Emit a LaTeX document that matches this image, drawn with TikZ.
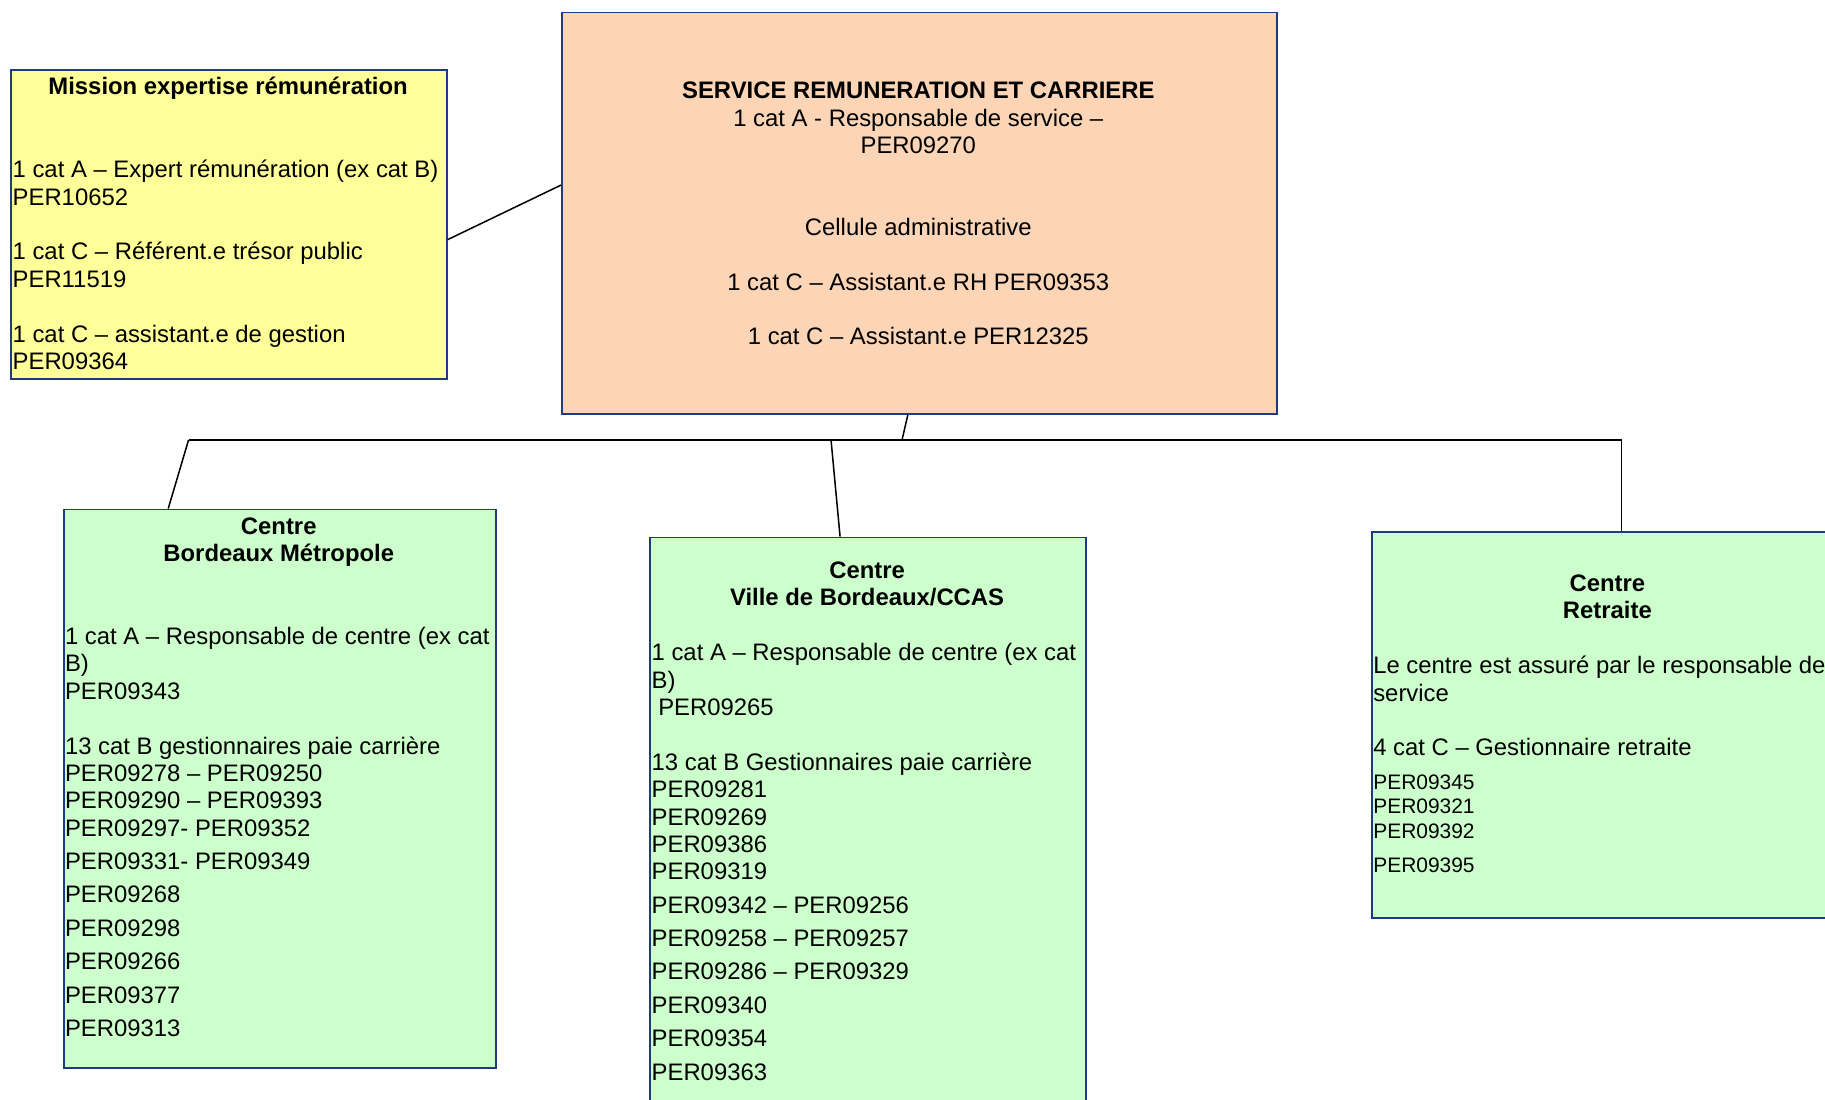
\documentclass[tikz,border=0pt]{standalone}
\usepackage{fontspec}
\setmainfont{Liberation Sans}
\usetikzlibrary{calc}
\definecolor{yfill}{HTML}{FFFF99}
\definecolor{pfill}{HTML}{FBD5B5}
\definecolor{gfill}{HTML}{CCFFCC}
\definecolor{bordc}{HTML}{1F3A80}
\tikzset{
  boxbase/.style={draw=bordc, line width=0.8pt, rectangle, inner sep=0pt, anchor=north west},
  ybox/.style={boxbase, fill=yfill},
  pbox/.style={boxbase, fill=pfill},
  gbox/.style={boxbase, fill=gfill},
  txt/.style={inner sep=0pt, font=\fontsize{10.25pt}{11.75pt}\selectfont},
  ttl/.style={txt, align=center, anchor=north, font=\fontsize{10.25pt}{11.75pt}\selectfont\bfseries},
  body/.style={txt, align=left, anchor=north west},
  conn/.style={draw=black, line width=0.65pt}
}
\begin{document}
\begin{tikzpicture}[x=0.5pt,y=-0.5pt]
\path[use as bounding box] (0,0) rectangle (1568,945);
\clip (0,0) rectangle (1568,945);
\fill[white] (0,0) rectangle (1568,945);

% boxes
\node[ybox, minimum width=187pt, minimum height=133pt] (yel) at (9,59) {};
\node[pbox, minimum width=307pt, minimum height=172.5pt] (peach) at (482,10) {};
\node[gbox, minimum width=185.5pt, minimum height=240pt] (lbox) at (54,437) {};
\node[gbox, minimum width=187pt, minimum height=252pt] (mbox) at (558,461) {};
\node[gbox, minimum width=203pt, minimum height=166pt] (rbox) at (1178,456) {};

% connectors
\coordinate (busL) at (162,378);
\coordinate (busT) at (775,378);
\coordinate (busM) at (714,378);
\coordinate (busR) at (1393,378);
\draw[conn] ($(yel.north east)!0.549!(yel.south east)$) -- ($(peach.north west)!0.43!(peach.south west)$);
\draw[conn] ($(peach.south west)!0.484!(peach.south east)$) -- (busT);
\draw[conn] (busL) -- (busR) -- (busR |- rbox.north);
\draw[conn] (busL) -- ($(lbox.north west)!0.243!(lbox.north east)$);
\draw[conn] (busM) -- ($(mbox.north west)!0.436!(mbox.north east)$);

% yellow box text
\node[txt, anchor=base, font=\fontsize{10.25pt}{11.75pt}\selectfont\bfseries] (ytitle) at (196,81.5) {Mission expertise rémunération};
\node[body] (ybody) at (10.5,136) {\strut 1 cat A – Expert rémunération (ex cat B)\\
PER10652\\[11.75pt]
1 cat C – Référent.e trésor public\\
PER11519\\[11.75pt]
1 cat C – assistant.e de gestion\\
PER09364};

% peach box text
\node[txt, align=center, anchor=north] (ptext) at (789,68) {\strut\textbf{SERVICE REMUNERATION ET CARRIERE}\\
1 cat A - Responsable de service –\\
PER09270\\[23.5pt]
Cellule administrative\\[11.75pt]
1 cat C – Assistant.e RH PER09353\\[11.75pt]
1 cat C – Assistant.e PER12325};

% left green box
\node[ttl] (ltitle) at (239.5,442) {\strut Centre\\Bordeaux Métropole};
\node[body] (lbody) at (55.5,537) {\strut 1 cat A – Responsable de centre (ex cat\\
B)\\
PER09343\\[11.75pt]
13 cat B gestionnaires paie carrière\\
PER09278 – PER09250\\
PER09290 – PER09393\\
PER09297- PER09352\\[2.6pt]
PER09331- PER09349\\[2.6pt]
PER09268\\[2.6pt]
PER09298\\[2.6pt]
PER09266\\[2.6pt]
PER09377\\[2.6pt]
PER09313};

% middle green box
\node[ttl] (mtitle) at (745,480) {\strut Centre\\Ville de Bordeaux/CCAS};
\node[body] (mbody) at (559.5,551) {\strut 1 cat A – Responsable de centre (ex cat\\
B)\\
\hspace*{2.85pt}PER09265\\[11.75pt]
13 cat B Gestionnaires paie carrière\\
PER09281\\
PER09269\\
PER09386\\
PER09319\\[2.6pt]
PER09342 – PER09256\\[2.6pt]
PER09258 – PER09257\\[2.6pt]
PER09286 – PER09329\\[2.6pt]
PER09340\\[2.6pt]
PER09354\\[2.6pt]
PER09363};

% right green box
\node[ttl] (rtitle) at (1381,491) {\strut Centre\\Retraite};
\node[body] (rbody) at (1179.5,562) {\strut Le centre est assuré par le responsable de\\
service\\[11.75pt]
4 cat C – Gestionnaire retraite\\[2.75pt]
{\fontsize{9pt}{10.5pt}\selectfont PER09345}\\[-1.25pt]
{\fontsize{9pt}{10.5pt}\selectfont PER09321}\\[-1.25pt]
{\fontsize{9pt}{10.5pt}\selectfont PER09392}\\[2.75pt]
{\fontsize{9pt}{10.5pt}\selectfont PER09395}};
\end{tikzpicture}
\end{document}
